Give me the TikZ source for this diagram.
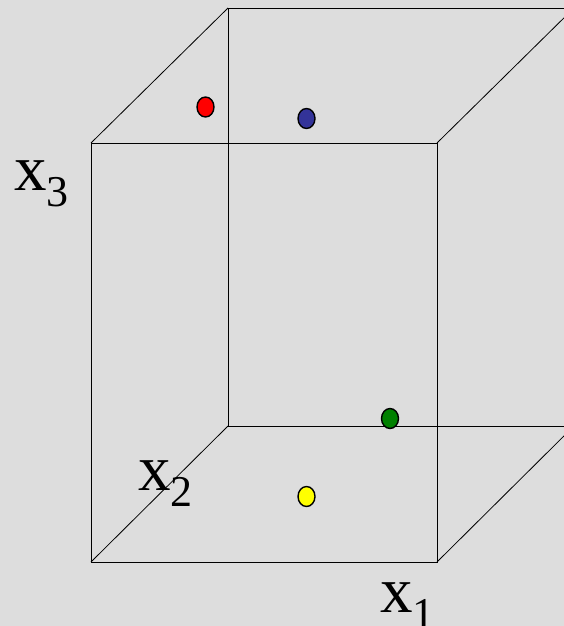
\documentclass[tikz,border=0pt]{standalone}
\usepackage{fontspec}
\setmainfont{Liberation Serif}
\usetikzlibrary{shapes.geometric}
\definecolor{bggray}{RGB}{221,221,221}
\definecolor{ptred}{RGB}{255,0,0}
\definecolor{ptblue}{RGB}{51,51,153}
\definecolor{ptgreen}{RGB}{0,128,0}
\definecolor{ptyellow}{RGB}{255,255,0}
\newcommand{\axisname}[1]{x\raisebox{-16pt}{\fontsize{44}{44}\selectfont #1}}

\begin{document}
\begin{tikzpicture}[x=1pt,y=-1pt,
  dot/.style={ellipse,draw=black,line width=1.4pt,minimum width=17pt,
    minimum height=20pt,inner sep=0pt},
  edge/.style={draw=black,line width=0.8pt},
  axislabel/.style={font=\fontsize{65}{65}\selectfont,inner sep=0pt,anchor=base west}]
\fill[bggray] (0,0) rectangle (564,626);
\clip (0,0) rectangle (564,626);
% front face corners
\coordinate (fbl) at (91,562);
\coordinate (fbr) at (437,562);
\coordinate (ftr) at (437,143);
\coordinate (ftl) at (91,143);
% back face corners
\coordinate (bbl) at (228,426);
\coordinate (bbr) at (574,426);
\coordinate (btr) at (574,8);
\coordinate (btl) at (228,8);
% box
\draw[edge] (fbl) -- (fbr) -- (ftr) -- (ftl) -- cycle;
\draw[edge] (bbl) -- (bbr) -- (btr) -- (btl) -- cycle;
\draw[edge] (fbl) -- (bbl);
\draw[edge] (fbr) -- (bbr);
\draw[edge] (ftr) -- (btr);
\draw[edge] (ftl) -- (btl);
% points
\node[dot,fill=ptred] (red) at (205.5,107) {};
\node[dot,fill=ptblue] (blue) at (306.5,118.5) {};
\node[dot,fill=ptgreen] (green) at (390,418.5) {};
\node[dot,fill=ptyellow] (yellow) at (306.5,496.5) {};
% axis names
\node[axislabel] (xthree) at (14,190) {\axisname{3}};
\node[axislabel] (xtwo) at (138,490) {\axisname{2}};
\node[axislabel] (xone) at (380,612) {\axisname{1}};
\end{tikzpicture}
\end{document}
